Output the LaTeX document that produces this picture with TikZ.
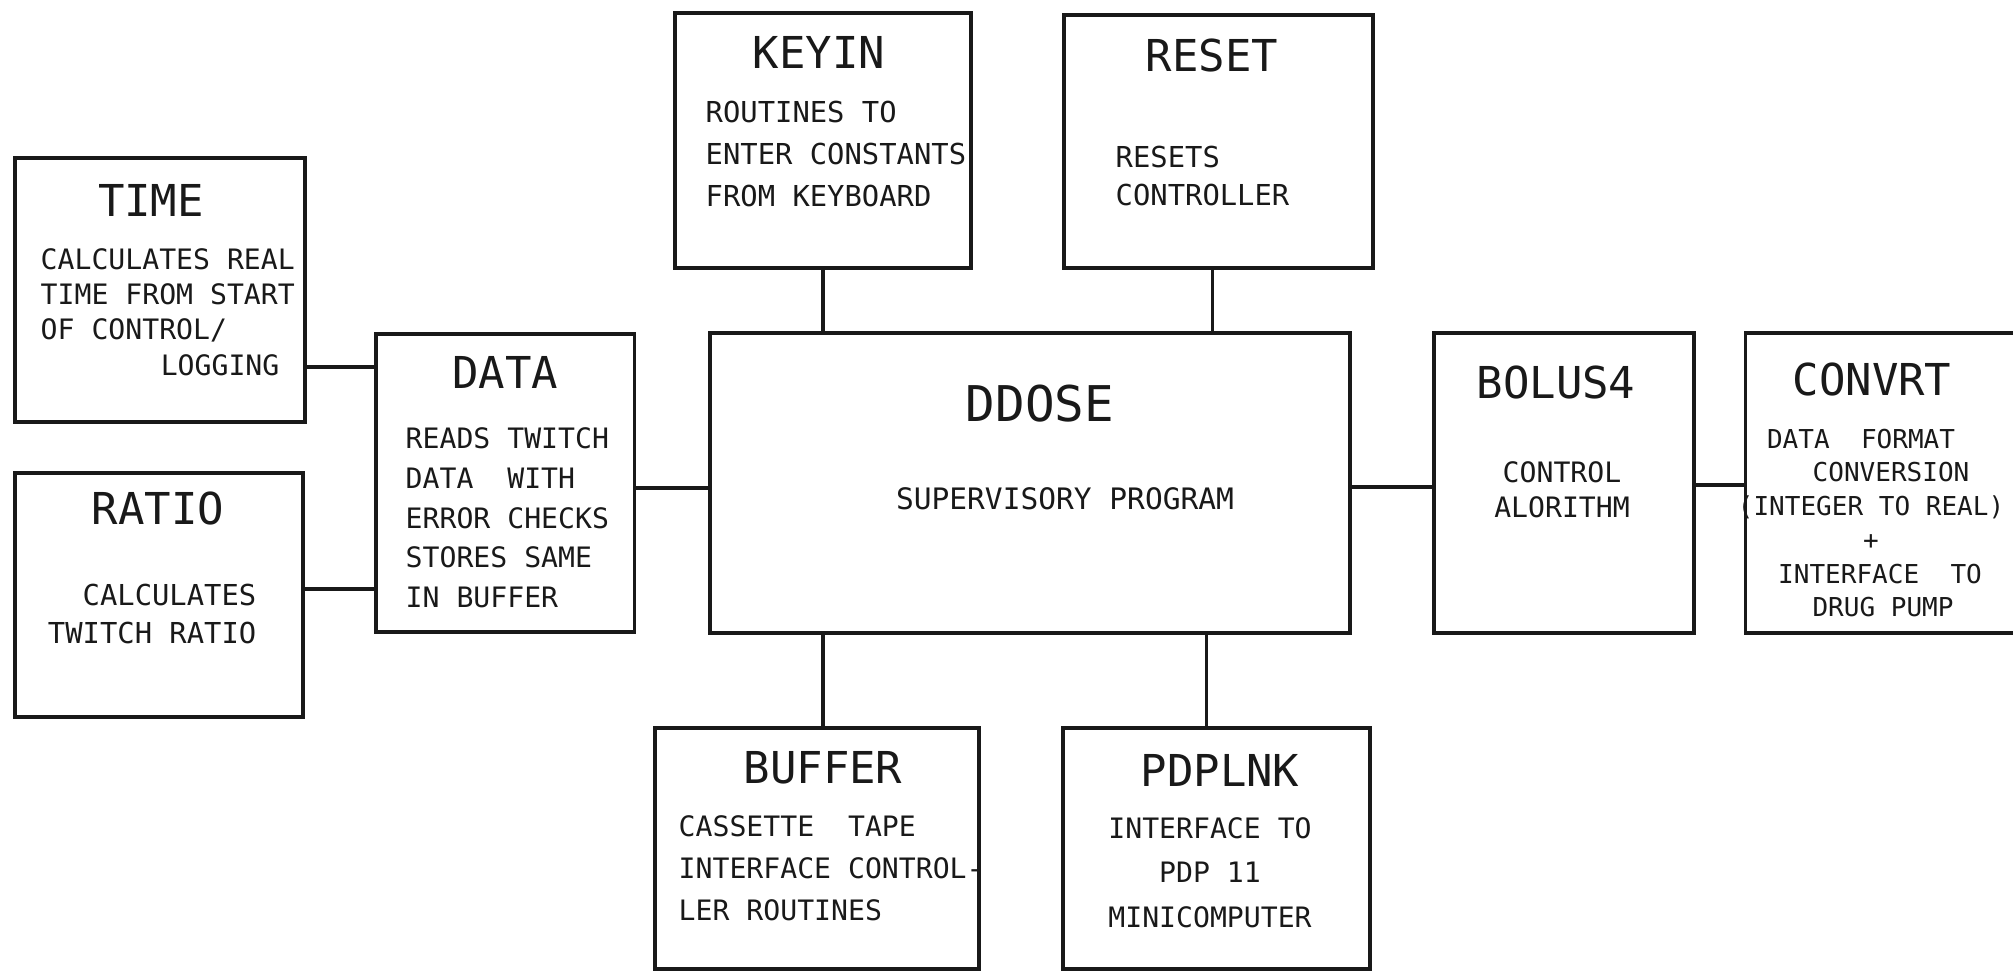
\documentclass[tikz,border=0pt]{standalone}
\usepackage{fontspec}
\setmonofont{DejaVu Sans Mono}
\usetikzlibrary{positioning}
\definecolor{figTinta}{RGB}{25,25,25}
\tikzset{
  bloque/.style={
    rectangle, draw=figTinta, line width=1pt, inner sep=0pt
  },
  rotulo/.style={
    font=\ttfamily\fontsize{12.5}{15}\selectfont, text=figTinta, inner sep=0pt
  },
  texto/.style={
    font=\ttfamily\fontsize{8}{10}\selectfont, text=figTinta, inner sep=0pt,
    align=left
  },
  enlace/.style={line width=1pt, draw=figTinta}
}

\begin{document}
\begin{tikzpicture}[x=0.01cm, y=-0.01cm]
  \useasboundingbox (0,0) rectangle (2013,971);

  % cajas
  \node[bloque, minimum width=6.4cm, minimum height=3.0cm] (ddose) at (1030,483) {};
  \node[bloque, minimum width=2.58cm, minimum height=2.98cm, left=0.72cm of ddose] (data) {};
  \node[bloque, minimum width=2.6cm, minimum height=3.0cm, right=0.8cm of ddose] (bolus) {};
  \node[bloque, minimum width=2.73cm, minimum height=3.0cm, right=0.48cm of bolus] (convrt) {};
  \node[bloque, minimum width=2.9cm, minimum height=2.64cm] (time) at (160,290) {};
  \node[bloque, minimum width=2.88cm, minimum height=2.44cm] (ratio) at (159,595) {};
  \node[bloque, minimum width=2.96cm, minimum height=2.55cm] (keyin) at (823,140.5) {};
  \node[bloque, minimum width=3.09cm, minimum height=2.53cm] (reset) at (1218.5,141.5) {};
  \node[bloque, minimum width=3.24cm, minimum height=2.41cm] (buffer) at (817,848.5) {};
  \node[bloque, minimum width=3.07cm, minimum height=2.41cm] (pdplnk) at (1216.5,848.5) {};

  % textos
  \node[rotulo] (timeT) at (151,200) {TIME};
  \node[texto, anchor=north west] (timeX) at (40,248)
    {CALCULATES REAL\\TIME FROM START\\OF CONTROL/\\\hspace*{1.2cm}LOGGING};
  \node[rotulo] (ratioT) at (158,509) {RATIO};
  \node[texto, align=right, anchor=north east, font=\ttfamily\fontsize{8.2}{11}\selectfont] (ratioX) at (257,583)
    {CALCULATES\\TWITCH RATIO};
  \node[rotulo] (dataT) at (505,372) {DATA};
  \node[texto, anchor=north west, font=\ttfamily\fontsize{8}{11.3}\selectfont] (dataX) at (405,427)
    {READS TWITCH\\DATA~~WITH\\ERROR CHECKS\\STORES SAME\\IN BUFFER};
  \node[rotulo, font=\ttfamily\fontsize{14}{16}\selectfont] (ddoseT) at (1040,404) {DDOSE};
  \node[texto, font=\ttfamily\fontsize{8.4}{10}\selectfont] (ddoseX) at (1065,499) {SUPERVISORY PROGRAM};
  \node[rotulo] (keyinT) at (819,52) {KEYIN};
  \node[texto, anchor=north west, font=\ttfamily\fontsize{8.2}{12}\selectfont] (keyinX) at (705,100)
    {ROUTINES TO\\ENTER CONSTANTS\\FROM KEYBOARD};
  \node[rotulo] (resetT) at (1212,56) {RESET};
  \node[texto, anchor=north west, font=\ttfamily\fontsize{8.2}{10.8}\selectfont] (resetX) at (1115,145)
    {RESETS\\CONTROLLER};
  \node[rotulo] (bolusT) at (1556,383) {BOLUS4};
  \node[texto, align=center] (bolusX) at (1562,490) {CONTROL\\ALORITHM};
  \node[rotulo] (convrtT) at (1872,380) {CONVRT};
  \node[texto, align=center, anchor=north, font=\ttfamily\fontsize{7.4}{9.6}\selectfont] (convrtX) at (1871,428)
    {DATA~~FORMAT\hspace*{0.2cm}\\\hspace*{0.4cm}CONVERSION\\(INTEGER TO REAL)\\+\\\hspace*{0.18cm}INTERFACE~~TO\\\hspace*{0.24cm}DRUG PUMP};
  \node[rotulo] (bufferT) at (823,768) {BUFFER};
  \node[texto, anchor=north west, font=\ttfamily\fontsize{8}{12}\selectfont] (bufferX) at (678,815)
    {CASSETTE~~TAPE\\INTERFACE CONTROL-\\LER ROUTINES};
  \node[rotulo] (pdplnkT) at (1220,770) {PDPLNK};
  \node[texto, align=center, anchor=north, font=\ttfamily\fontsize{8}{12.6}\selectfont] (pdplnkX) at (1210,817)
    {INTERFACE TO\\PDP 11\\MINICOMPUTER};

  % enlaces
  \draw[enlace] ([yshift=-0.77cm]time.east) -- ([yshift=-0.77cm]time.east -| data.west);
  \draw[enlace] ([yshift=0.06cm]ratio.east) -- ([yshift=0.06cm]ratio.east -| data.west);
  \draw[enlace] ([yshift=-0.05cm]data.east) -- ([yshift=-0.05cm]data.east -| ddose.west);
  \draw[enlace] ([yshift=-0.04cm]ddose.east) -- ([yshift=-0.04cm]ddose.east -| bolus.west);
  \draw[enlace] ([yshift=-0.02cm]bolus.east) -- ([yshift=-0.02cm]bolus.east -| convrt.west);
  \draw[enlace] (keyin.south) -- (keyin.south |- ddose.north);
  \draw[enlace] ([xshift=-0.06cm]reset.south) -- ([xshift=-0.06cm]reset.south |- ddose.north);
  \draw[enlace] ([xshift=0.06cm]buffer.north) -- ([xshift=0.06cm]buffer.north |- ddose.south);
  \draw[enlace] ([xshift=-0.1cm]pdplnk.north) -- ([xshift=-0.1cm]pdplnk.north |- ddose.south);
\end{tikzpicture}
\end{document}
